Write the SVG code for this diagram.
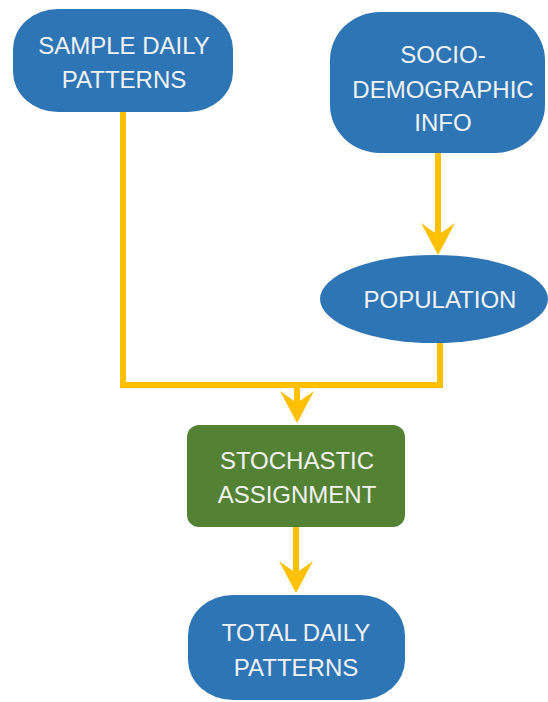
<svg xmlns="http://www.w3.org/2000/svg" width="548" height="702" viewBox="0 0 548 702">
<style>
.blue{fill:#2E75B6;}
.green{fill:#548235;}
.t{font-family:"Liberation Sans",Arial,sans-serif;font-size:24px;fill:#F2F2F2;text-anchor:middle;}
.c{fill:none;stroke:#FFC000;stroke-width:6;stroke-linejoin:miter;}
</style>
<defs>
<marker id="ah" markerUnits="userSpaceOnUse" markerWidth="40" markerHeight="40" viewBox="0 -20 40 40" refX="12" refY="0" orient="auto">
<path d="M32,0 L0,-17 L12,0 L0,17 Z" fill="#FFC000"/>
</marker>
</defs>
<rect width="548" height="702" fill="#FFFFFF"/>
<g id="connectors">
<path class="c" d="M123,112 V385 H440 V343"/>
<path class="c" d="M297,385 V403" marker-end="url(#ah)"/>
<path class="c" d="M438,153 V235" marker-end="url(#ah)"/>
<path class="c" d="M296,527 V573" marker-end="url(#ah)"/>
</g>
<g id="sample">
<rect class="blue" x="13" y="9" width="220" height="103" rx="45" ry="40"/>
<text class="t" x="124" y="54">SAMPLE DAILY</text>
<text class="t" x="124" y="88">PATTERNS</text>
</g>
<g id="socio">
<rect class="blue" x="330" y="12" width="215" height="141" rx="50" ry="48"/>
<text class="t" x="443" y="63">SOCIO-</text>
<text class="t" x="443" y="98">DEMOGRAPHIC</text>
<text class="t" x="443" y="131">INFO</text>
</g>
<g id="population">
<ellipse class="blue" cx="434" cy="299" rx="114" ry="44"/>
<text class="t" x="440" y="308">POPULATION</text>
</g>
<g id="stochastic">
<rect class="green" x="187" y="425" width="218" height="102" rx="12"/>
<text class="t" x="297" y="469">STOCHASTIC</text>
<text class="t" x="297" y="503">ASSIGNMENT</text>
</g>
<g id="total">
<rect class="blue" x="188" y="595" width="217" height="105" rx="45" ry="40"/>
<text class="t" x="296" y="641">TOTAL DAILY</text>
<text class="t" x="296" y="676">PATTERNS</text>
</g>
</svg>
